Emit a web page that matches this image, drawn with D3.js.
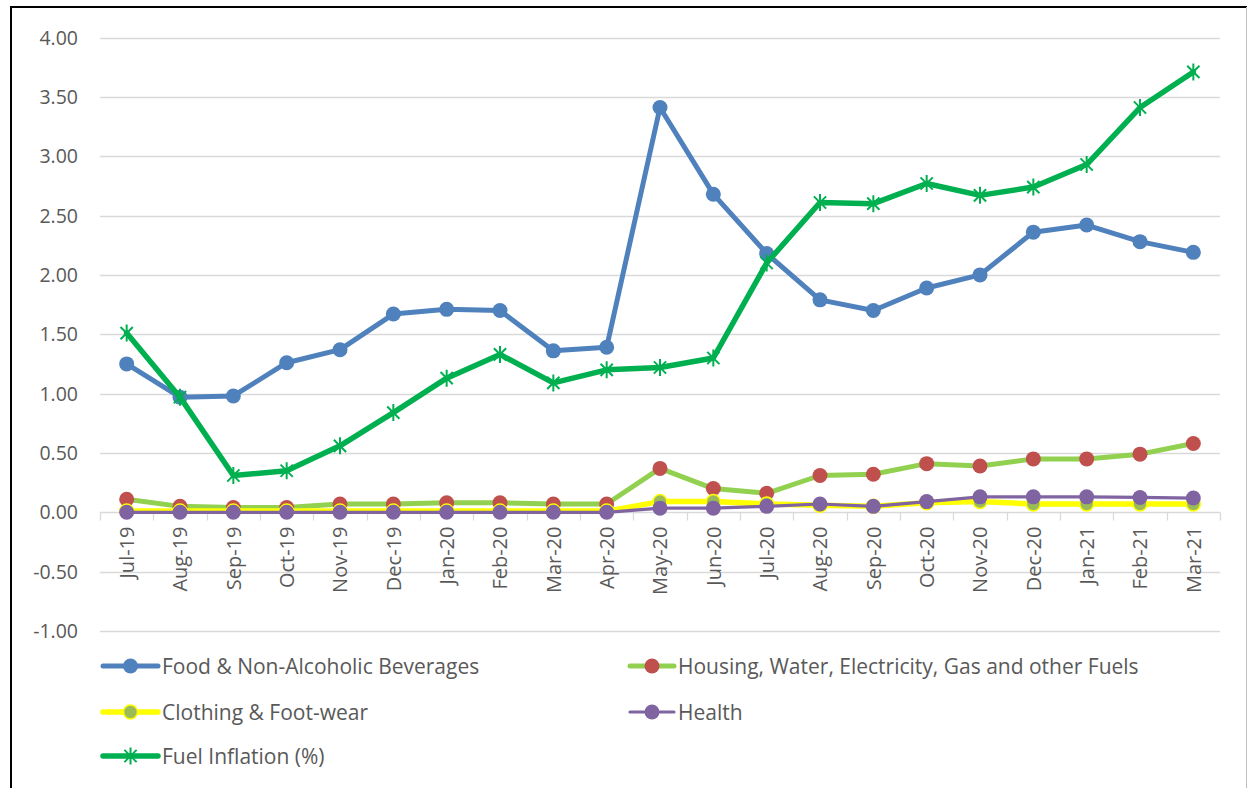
<!DOCTYPE html>
<html>
<head>
<meta charset="utf-8">
<script src="https://cdn.jsdelivr.net/npm/d3@7/dist/d3.min.js"></script>
<style>
  html, body { margin: 0; padding: 0; background: #fff; }
  svg { display: block; font-family: "Open Sans", Lato, sans-serif; }
</style>
</head>
<body>
<svg id="chart" width="1248" height="788"></svg>
<script>
// Monthly categories
const months = ["Jul-19","Aug-19","Sep-19","Oct-19","Nov-19","Dec-19","Jan-20","Feb-20","Mar-20","Apr-20",
  "May-20","Jun-20","Jul-20","Aug-20","Sep-20","Oct-20","Nov-20","Dec-20","Jan-21","Feb-21","Mar-21"];

// Series values (%)
const food     = [1.25,0.97,0.98,1.26,1.37,1.67,1.71,1.70,1.36,1.39,3.41,2.68,2.18,1.79,1.70,1.89,2.00,2.36,2.42,2.28,2.19];
const housing  = [0.11,0.05,0.04,0.04,0.07,0.07,0.08,0.08,0.07,0.07,0.37,0.20,0.16,0.31,0.32,0.41,0.39,0.45,0.45,0.49,0.58];
const clothing = [0.01,0.01,0.01,0.01,0.01,0.01,0.01,0.01,0.01,0.01,0.09,0.09,0.07,0.06,0.05,0.08,0.09,0.07,0.07,0.07,0.07];
const health   = [0.00,0.00,0.00,0.00,0.00,0.00,0.00,0.00,0.00,0.00,0.035,0.035,0.05,0.07,0.05,0.09,0.13,0.13,0.13,0.125,0.12];
const fuel     = [1.51,0.97,0.31,0.35,0.56,0.84,1.13,1.33,1.09,1.20,1.22,1.30,2.10,2.61,2.60,2.77,2.67,2.74,2.93,3.41,3.71];

// Y axis tick values
const yTicks = [-1.0,-0.5,0,0.5,1.0,1.5,2.0,2.5,3.0,3.5,4.0];

const series = [
  { name: "Food & Non-Alcoholic Beverages", values: food, line: "#4F81BD", width: 5, marker: "circle", fill: "#4F81BD", stroke: "#4F81BD", r: 7.5 },
  { name: "Housing, Water, Electricity, Gas and other Fuels", values: housing, line: "#92D050", width: 5, marker: "circle", fill: "#C0504D", stroke: "#C0504D", r: 7.5 },
  { name: "Clothing & Foot-wear", values: clothing, line: "#FFFF00", width: 5.5, marker: "circle", fill: "#9BBB59", stroke: "#FFFF00", r: 7 },
  { name: "Health", values: health, line: "#8064A2", width: 3.2, marker: "circle", fill: "#8064A2", stroke: "#8064A2", r: 7.5 },
  { name: "Fuel Inflation (%)", values: fuel, line: "#00B050", width: 5.5, marker: "star", fill: "none", stroke: "#00B050", r: 8.5 }
];

const svg = d3.select("#chart");

// Chart frame
svg.append("line").attr("x1", 10).attr("x2", 1247).attr("y1", 7).attr("y2", 7).attr("stroke", "#000").attr("stroke-width", 2);
svg.append("line").attr("x1", 11).attr("x2", 11).attr("y1", 6).attr("y2", 788).attr("stroke", "#000").attr("stroke-width", 2);
svg.append("line").attr("x1", 1246.5).attr("x2", 1246.5).attr("y1", 7).attr("y2", 788).attr("stroke", "#bfbfbf").attr("stroke-width", 1);

const x = d3.scaleBand().domain(months).range([100, 1220]);
const y = d3.scaleLinear().domain([-1, 4]).range([631, 37.5]);
const cx = m => x(m) + x.bandwidth() / 2;

// Horizontal gridlines
svg.append("g").selectAll("line").data(yTicks).join("line")
  .attr("x1", 100).attr("x2", 1220)
  .attr("y1", d => Math.round(y(d)) + 0.5).attr("y2", d => Math.round(y(d)) + 0.5)
  .attr("stroke", "#d9d9d9").attr("stroke-width", 1.3);

// Y axis labels
const fmt = d3.format(".2f");
svg.append("g").selectAll("text").data(yTicks).join("text")
  .attr("x", 78).attr("y", d => y(d)).attr("dy", "0.36em")
  .attr("text-anchor", "end").attr("fill", "#595959").attr("font-size", 19.5)
  .text(d => fmt(d).replace("\u2212", "-"));

// X axis ticks at category boundaries
const y0 = Math.round(y(0)) + 0.5;
const bounds = months.map(m => x(m)).concat([x(months[months.length - 1]) + x.bandwidth()]);
svg.append("g").selectAll("line").data(bounds).join("line")
  .attr("x1", d => Math.round(d) + 0.5).attr("x2", d => Math.round(d) + 0.5)
  .attr("y1", y0).attr("y2", y0 + 8)
  .attr("stroke", "#d9d9d9").attr("stroke-width", 1.3);

// X axis labels, rotated
svg.append("g").selectAll("text").data(months).join("text")
  .attr("transform", m => `translate(${cx(m)},${y0 + 14}) rotate(-90)`)
  .attr("text-anchor", "end").attr("dy", "0.36em")
  .attr("fill", "#595959").attr("font-size", 20)
  .text(m => m);

const starPath = r => {
  const d = r * 0.72;
  return `M0,${-r}L0,${r}M${-d},${-d}L${d},${d}M${-d},${d}L${d},${-d}`;
};

function drawMarker(g, s, px, py) {
  if (s.marker === "circle") {
    g.append("circle").attr("cx", px).attr("cy", py).attr("r", s.r)
      .attr("fill", s.fill).attr("stroke", s.stroke).attr("stroke-width", s.stroke === s.fill ? 0 : 1.5);
  } else {
    g.append("path").attr("transform", `translate(${px},${py})`).attr("d", starPath(s.r))
      .attr("stroke", s.stroke).attr("stroke-width", 2).attr("fill", "none");
  }
}

const line = d3.line().x((d, i) => cx(months[i])).y(d => y(d));

series.forEach(s => {
  const g = svg.append("g");
  g.append("path").datum(s.values).attr("d", line)
    .attr("fill", "none").attr("stroke", s.line).attr("stroke-width", s.width)
    .attr("stroke-linejoin", "round").attr("stroke-linecap", "round");
  s.values.forEach((v, i) => drawMarker(g, s, cx(months[i]), y(v)));
});

// Legend
const legendPos = [
  { x: 103, y: 666 }, { x: 630, y: 666 },
  { x: 103, y: 712 }, { x: 630, y: 712 },
  { x: 103, y: 756 }
];
series.forEach((s, i) => {
  const p = legendPos[i];
  const g = svg.append("g");
  const w = i % 2 === 0 ? 55 : 44;
  g.append("line").attr("x1", p.x).attr("x2", p.x + w).attr("y1", p.y).attr("y2", p.y)
    .attr("stroke", s.line).attr("stroke-width", s.width).attr("stroke-linecap", "round");
  drawMarker(g, s, p.x + w / 2, p.y);
  g.append("text").attr("x", p.x + w + 4).attr("y", p.y).attr("dy", "0.36em")
    .attr("fill", "#595959").attr("font-size", 21).text(s.name);
});
</script>
</body>
</html>
